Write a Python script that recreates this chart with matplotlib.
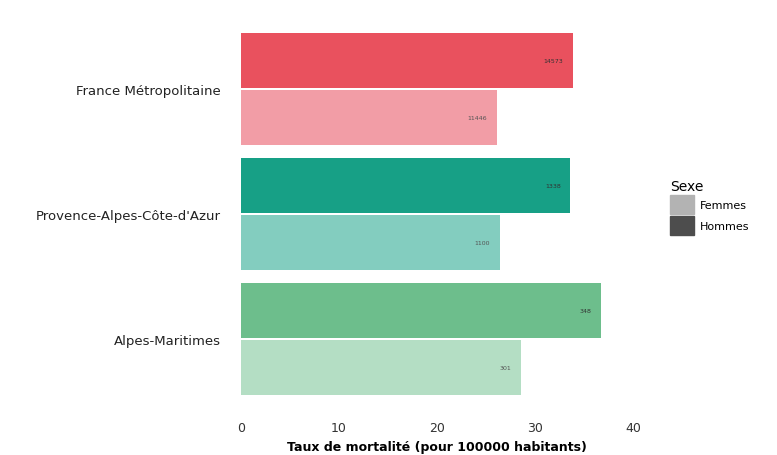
import matplotlib.pyplot as plt
from matplotlib.patches import Patch

regions = ["France Métropolitaine", "Provence-Alpes-Côte-d'Azur", "Alpes-Maritimes"]
hommes = [33.9, 33.6, 36.7]
femmes = [26.1, 26.4, 28.6]
lab_hommes = ["14573", "1338", "348"]
lab_femmes = ["11446", "1100", "301"]

col_hommes = ["#E9515E", "#17A086", "#6DBE8C"]
col_femmes = ["#F29DA6", "#83CDBF", "#B4DEC4"]

fig = plt.figure(figsize=(7.77, 4.56), dpi=100)
ax = fig.add_axes([232 / 777, 1 - 414 / 456, 410 / 777, 395 / 456])

h = 0.44
off = 0.229
for i, reg in enumerate(regions):
    y = 2 - i
    ax.barh(y + off, hommes[i], height=h, color=col_hommes[i])
    ax.barh(y - off, femmes[i], height=h, color=col_femmes[i])
    ax.text(hommes[i] - 1.0, y + off, lab_hommes[i], ha="right", va="center",
            fontsize=4.5, color="#333333")
    ax.text(femmes[i] - 1.0, y - off, lab_femmes[i], ha="right", va="center",
            fontsize=4.5, color="#555555")

ax.set_xlim(-0.92, 40.9)
ax.set_ylim(-0.59, 2.57)
ax.set_yticks([2, 1, 0])
ax.set_yticklabels(regions, fontsize=9.5, color="#222222")
ax.set_xticks([0, 10, 20, 30, 40])
ax.tick_params(axis="x", labelsize=9, colors="#333333", length=0, pad=6)
ax.tick_params(axis="y", length=0, pad=8)
ax.set_xlabel("Taux de mortalité (pour 100000 habitants)", fontsize=9,
              fontweight="bold", labelpad=4)
for s in ax.spines.values():
    s.set_visible(False)

handles = [Patch(color="#B3B3B3", label="Femmes"), Patch(color="#4D4D4D", label="Hommes")]
leg = fig.legend(handles=handles, title="Sexe", loc="upper left",
                 bbox_to_anchor=(660 / 777, 1 - 170 / 456), frameon=False,
                 fontsize=8, title_fontsize=10, handlelength=2.2, handleheight=2.2,
                 labelspacing=0.2, handletextpad=0.5, alignment="left")

fig.savefig("out.png", dpi=100)
